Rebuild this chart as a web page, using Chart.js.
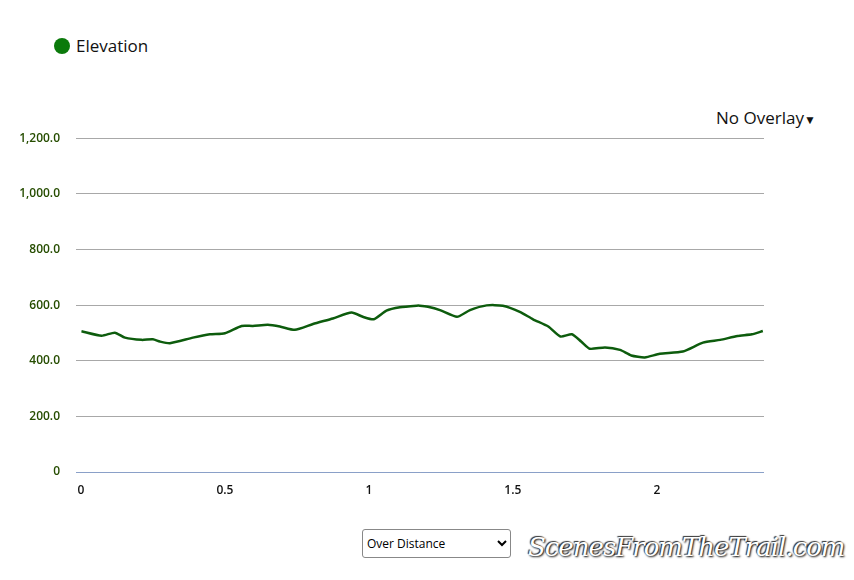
<!DOCTYPE html>
<html><head><meta charset="utf-8">
<script src="https://cdn.jsdelivr.net/npm/chart.js@4"></script>
<style>
body{margin:0;width:854px;height:580px;background:#fff;font-family:"Open Sans",sans-serif;position:relative;overflow:hidden}
#wrap{position:absolute;left:0;top:115px;width:764px;height:382px}
#leg{position:absolute;left:54px;top:34px;font-size:17px;color:#111;display:flex;align-items:center}
#leg span{display:inline-block;width:16px;height:16px;border-radius:50%;background:#0b7a0b;margin-right:6px}
#ov{position:absolute;left:716px;top:106px;font-size:17px;color:#111}
#sel{position:absolute;left:362px;top:529px;width:149px;height:29px;font-size:12px;font-family:"Open Sans",sans-serif;border:1px solid #888;border-radius:3px;background:#fff}
#wm{position:absolute;left:528px;top:532px;font-size:26px;font-family:"DejaVu Serif",serif;font-style:italic;color:#fff;text-shadow:1px 1px 2px #000,-1px -1px 1px #333;letter-spacing:-1px}
</style></head><body>
<div id="leg"><span></span>Elevation</div>
<div id="ov">No Overlay<span style="font-size:12px">&#9660;</span></div>
<div id="wrap"><canvas id="c"></canvas></div>
<select id="sel"><option>Over Distance</option></select>
<div id="wm">ScenesFromTheTrail.com</div>
<script>
const distances=[0.002,0.072,0.118,0.153,0.211,0.25,0.274,0.309,0.389,0.448,0.5,0.558,0.597,0.649,0.691,0.743,0.806,0.875,0.94,0.979,1.017,1.061,1.108,1.166,1.205,1.177,1.247,1.306,1.351,1.409,1.465,1.524,1.57,1.623,1.665,1.705,1.737,1.767,1.82,1.872,1.911,1.958,2.01,2.09,2.16,2.22,2.28,2.33,2.368];
const elevations=[506,490,501,483,475,477,469,463,483,495,499,525,525,529,523,511,532,552,573,558,549,580,592,598,594,598,582,558,582,599,598,576,549,523,487,495,469,443,448,439,419,412,425,433,465,475,489,495,507];
const yTicks=[0,200,400,600,800,1000,1200];
const xTicks=[0,0.5,1,1.5,2];
const pts=distances.map((d,i)=>({x:d,y:elevations[i]})).sort((a,b)=>a.x-b.x);
new Chart(document.getElementById('c'),{type:'line',
data:{datasets:[{label:'Elevation',data:pts,borderColor:'#0d5c0d',borderWidth:2.5,pointRadius:0,tension:0.2,fill:false}]},
options:{responsive:true,maintainAspectRatio:false,animation:false,
layout:{padding:{top:10,right:0,left:0,bottom:0}},
plugins:{legend:{display:false},tooltip:{enabled:false}},
scales:{
x:{type:'linear',min:-0.017,max:2.372,
afterBuildTicks:a=>{a.ticks=xTicks.map(v=>({value:v}))},
afterFit:a=>{a.height=25},
grid:{display:false},border:{color:'#8aa0c8'},
ticks:{color:'#111',font:{size:12,family:'Open Sans',weight:'600'},maxRotation:0,callback:v=>String(v)}},
y:{min:0,max:1200,
afterBuildTicks:a=>{a.ticks=yTicks.map(v=>({value:v}))},
afterFit:a=>{a.width=76},
grid:{color:'#a8a8a8',drawTicks:false},border:{display:false},
ticks:{color:'#264d00',padding:16,font:{size:12,family:'Open Sans',weight:'600'},
callback:v=>v===0?'0':v.toLocaleString('en-US',{minimumFractionDigits:1,maximumFractionDigits:1})}}
}}});
</script></body></html>
